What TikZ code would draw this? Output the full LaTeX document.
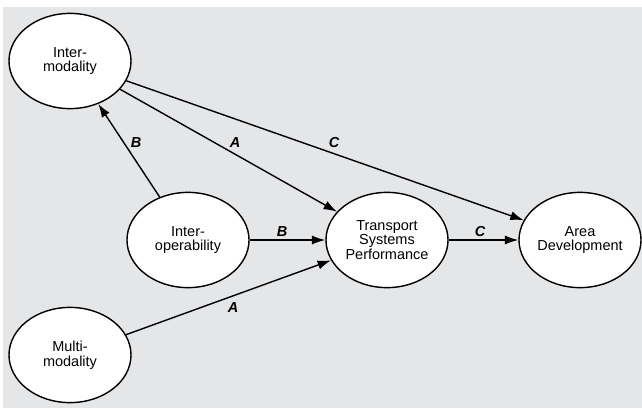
\documentclass[tikz,border=0pt]{standalone}
\usepackage{fontspec}
\setmainfont{Liberation Sans}
\usetikzlibrary{arrows.meta,shapes.geometric}

\definecolor{bggray}{RGB}{229,230,232}

\begin{document}
\begin{tikzpicture}[x=0.025cm, y=-0.025cm,
        factor/.style={ellipse, draw, fill=white, line width=1pt,
            minimum width=3.05cm, minimum height=2.38cm, inner sep=0pt,
            align=center, font=\fontsize{10.3}{10.6}\selectfont},
        link/.style={-{Latex[length=9.5pt,width=6.5pt]}, line width=1pt},
        lbl/.style={font=\bfseries\itshape\fontsize{10.3}{12}\selectfont}]
    \useasboundingbox (0,0) rectangle (642,408);
    \fill[bggray] (3,7) rectangle (642,408);

    % factors
    \node[factor] (inter) at (70,61)   {Inter-\\modality};
    \node[factor] (oper)  at (188,240) {Inter-\\operability};
    \node[factor] (tsp)   at (387,240) {Transport\\Systems\\Performance};
    \node[factor] (area)  at (580,240) {Area\\Development};
    \node[factor] (multi) at (70,355)  {Multi-\\modality};

    % paths
    \draw[link] (inter) -- (tsp);
    \draw[link] (inter) -- (area);
    \draw[link] (oper)  -- (inter);
    \draw[link] (oper)  -- (tsp);
    \draw[link] (tsp)   -- (area);
    \draw[link] (multi) -- (tsp);

    % path labels
    \node[lbl] (bup)  at (136,143) {B};
    \node[lbl] (aup)  at (235,143) {A};
    \node[lbl] (cup)  at (334,143) {C};
    \node[lbl] (bmid) at (282,232) {B};
    \node[lbl] (cmid) at (480,232) {C};
    \node[lbl] (alow) at (233,308) {A};
\end{tikzpicture}
\end{document}
